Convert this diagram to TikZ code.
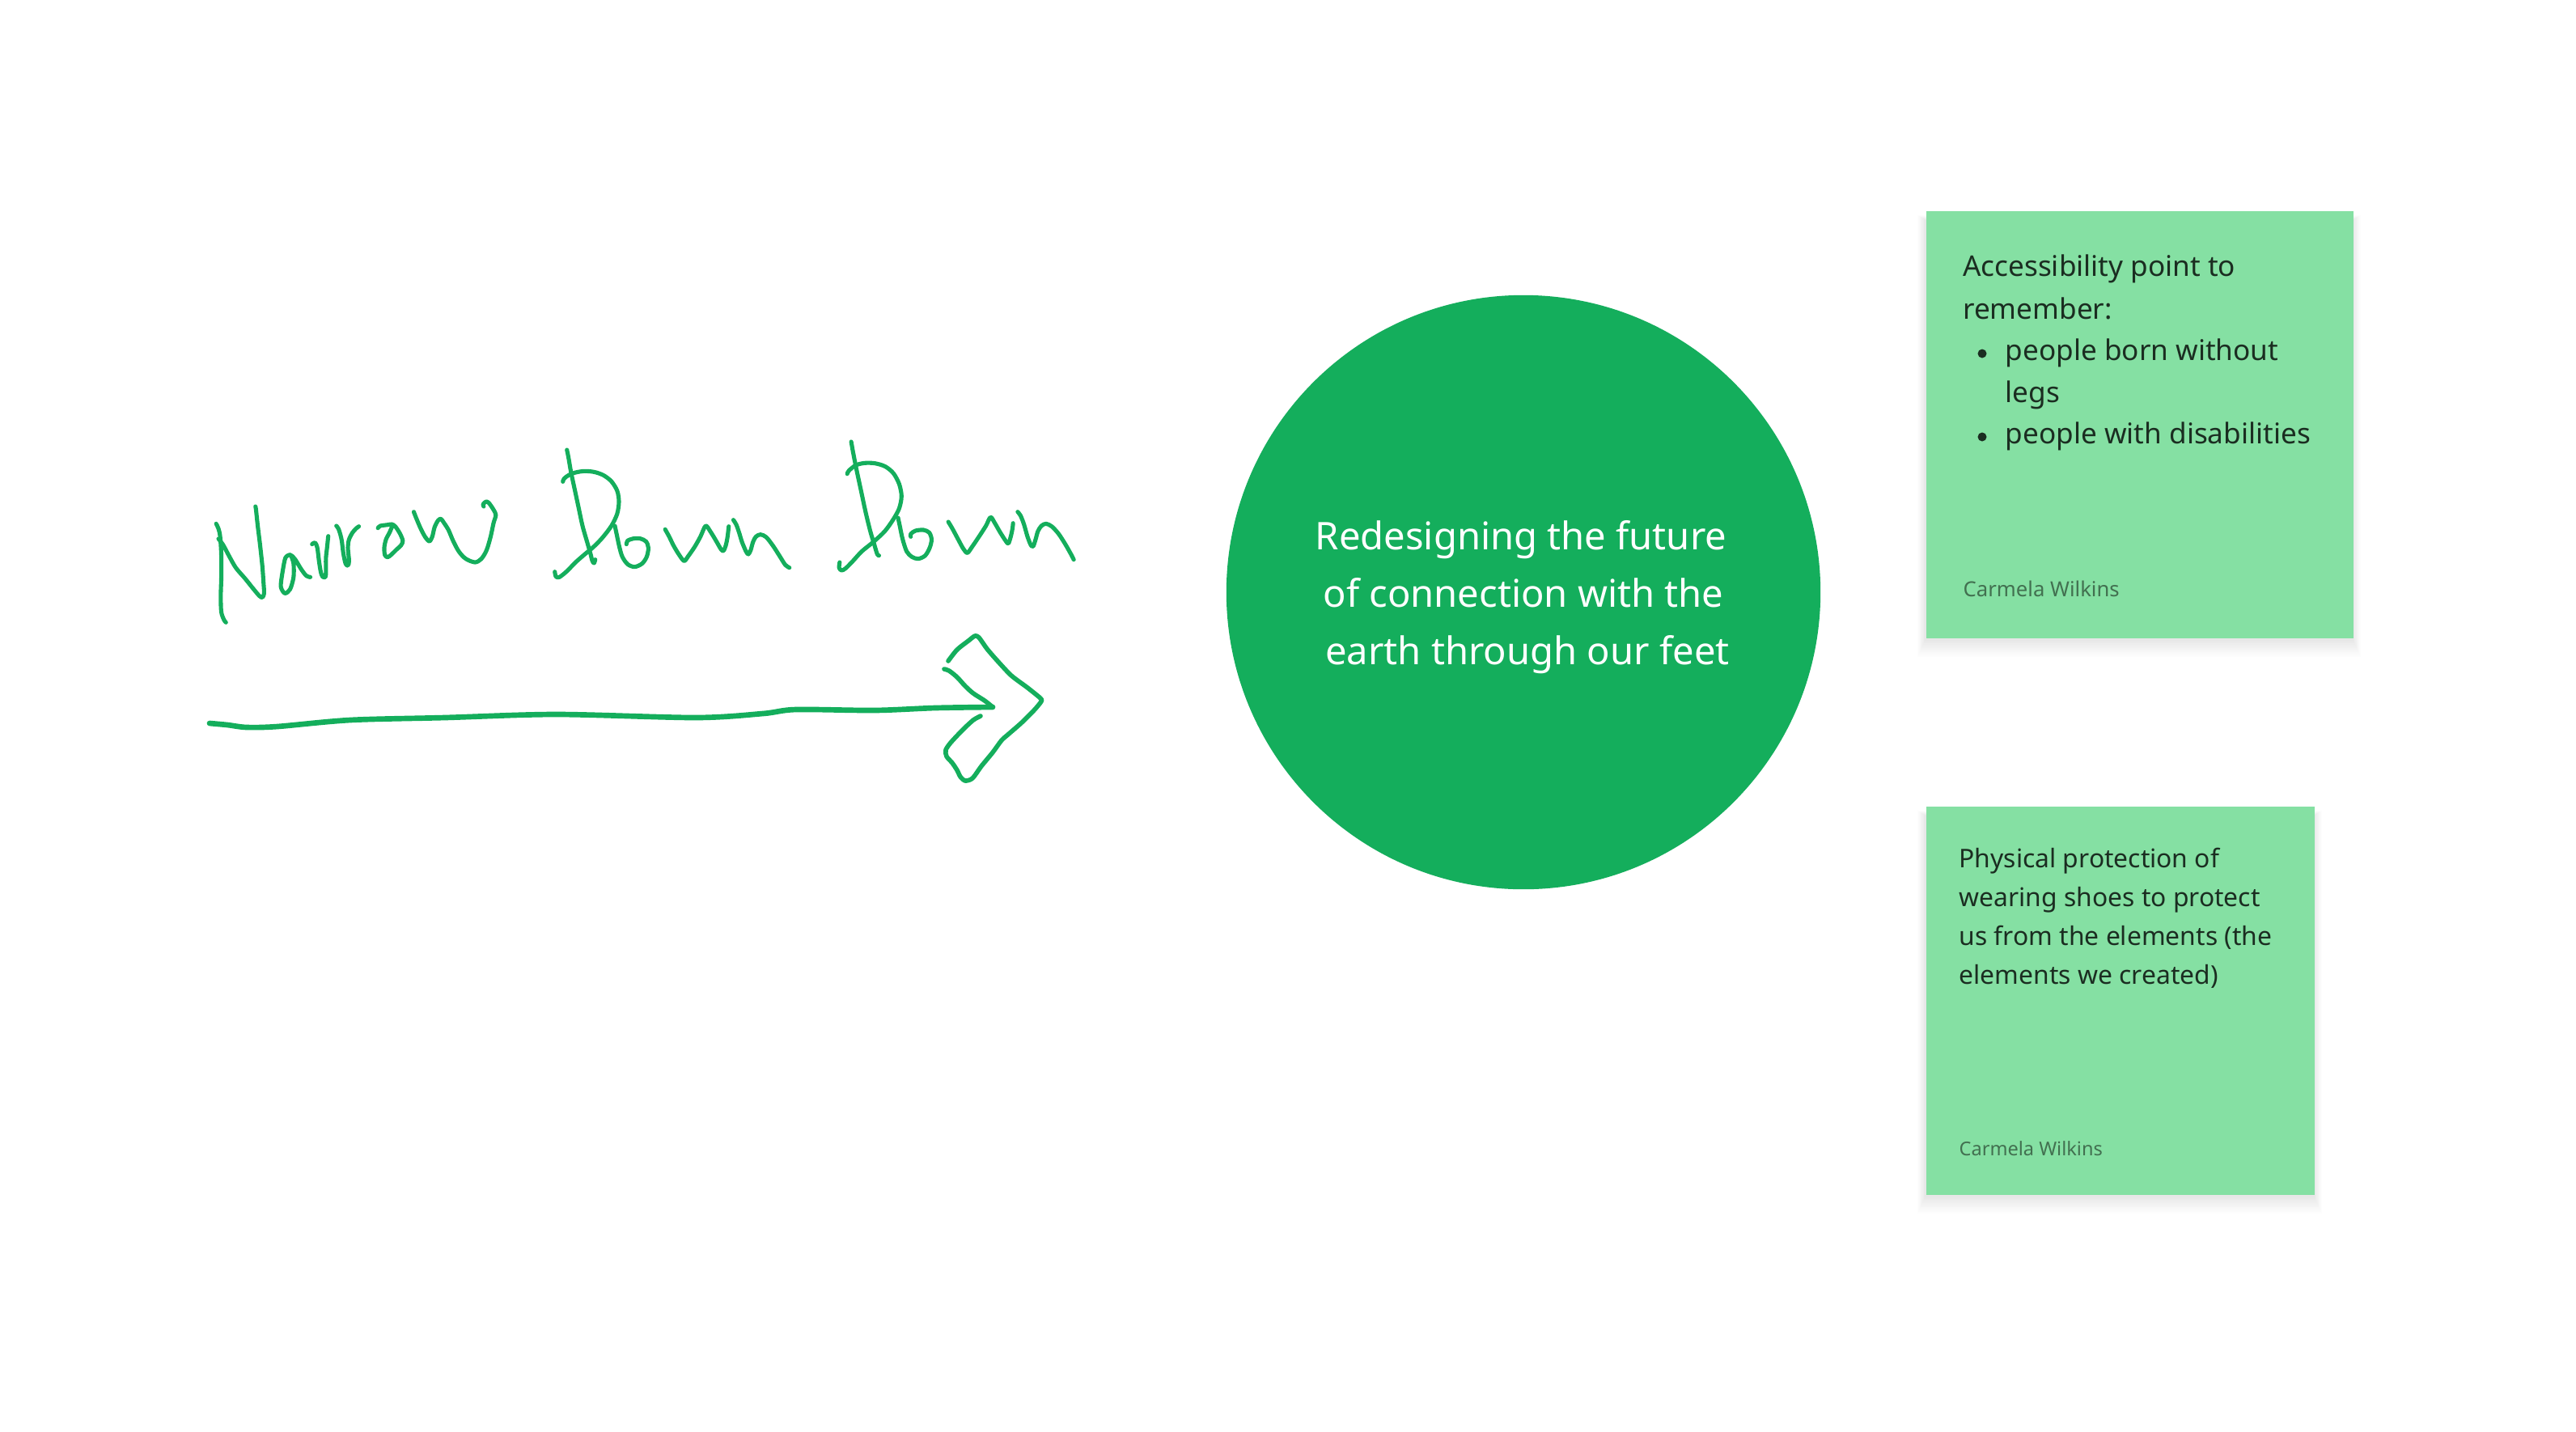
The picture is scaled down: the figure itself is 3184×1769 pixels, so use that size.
\documentclass[tikz,border=0pt]{standalone}
\usepackage{fontspec}
\setmainfont{Noto Sans}
\definecolor{figgreen}{HTML}{14AE5C}
\definecolor{stickygreen}{HTML}{85E0A3}
\definecolor{stickyink}{RGB}{27,45,33}
\definecolor{authorink}{RGB}{66,112,80}
\begin{document}
\begin{tikzpicture}[x=0.01cm,y=-0.01cm,
  ink/.style={draw=figgreen, line width=1.45pt, line cap=round, line join=round},
  arrowink/.style={draw=figgreen, line width=1.6pt, line cap=round, line join=round},
  shaftink/.style={draw=figgreen, line width=1.9pt, line cap=round, line join=round},
  notebox/.style={fill=stickygreen, draw=none, inner sep=0, anchor=north west},
  notetext/.style={inner sep=0, anchor=base west, text=stickyink},
  bulletdot/.style={circle, fill=stickyink, draw=none, inner sep=0, minimum size=0.11cm},
  n1font/.style={font=\fontsize{10pt}{14pt}\selectfont},
  n2font/.style={font=\fontsize{9.05pt}{13pt}\selectfont},
  authortext/.style={inner sep=0, anchor=base west, text=authorink, font=\fontsize{7.3pt}{9pt}\selectfont},
  hubtext/.style={inner sep=0, anchor=base, text=white, font=\fontsize{13.4pt}{20pt}\selectfont},
  shadowlayer/.style={fill=black, opacity=0.009}
]
\fill[white] (0,0) rectangle (3184,1769);
\useasboundingbox (0,0) rectangle (3184,1769);

% ---------- handwriting "Narrow Down Down" ----------
\begin{scope}[shift={(240,520)}, xscale=0.7143, yscale=0.33333]
% N
\draw[ink] plot[smooth, tension=0.5] coordinates {(38,382) (42,400) (45,430) (47,500) (47,580) (46,650) (47,710) (52,740) (55,748)};
\draw[ink] plot[smooth, tension=0.5] coordinates {(42,438) (50,460) (60,500) (72,545) (88,585) (103,625) (113,650) (118,655) (121,640) (120,600) (118,540) (114,460) (110,390) (107,330) (106,318)};
% a
\draw[ink] plot[smooth, tension=0.5] coordinates {(166,497) (158,508) (153,560) (150,615) (157,640) (166,625) (172,580) (172,530) (168,500) (175,515) (185,550) (194,575) (201,580)};
% r
\draw[ink] plot[smooth, tension=0.5] coordinates {(204,458) (209,452) (213,470) (216,520) (219,560) (222,578) (227,580) (228,560) (228,510) (230,470) (232,428)};
% r
\draw[ink] plot[smooth, tension=0.5] coordinates {(246,390) (250,402) (255,440) (258,490) (262,530) (266,537) (268,520) (266,470) (268,440) (274,415) (280,400) (285,392)};
% o
\draw[ink] plot[smooth, tension=0.5] coordinates {(318,398) (322,390) (335,386) (342,384) (348,392) (356,418) (361,445) (358,462) (350,478) (342,495) (335,506) (330,498) (329,470) (332,440) (338,415) (342,395)};
% w
\draw[ink] plot[smooth, tension=0.5] coordinates {(380,338) (384,360) (392,400) (400,432) (407,447) (412,430) (416,395) (422,370) (427,364) (432,378) (440,405) (448,445) (458,485) (470,512) (486,525) (497,512) (506,480) (513,430) (518,380) (522,350) (518,330) (510,305) (505,300) (500,310) (501,318)};
% D
\draw[ink] plot[smooth, tension=0.5] coordinates {(645,108) (648,140) (652,190) (658,250) (665,320) (672,390) (680,450) (686,495) (689,520) (692,528) (694,515)};
\draw[ink] plot[smooth, tension=0.5] coordinates {(638,226) (640,215) (648,202) (660,192) (675,187) (692,190) (708,202) (722,225) (732,260) (735,300) (732,345) (722,390) (706,435) (690,470) (676,495) (660,525) (645,558) (632,580) (626,578) (624,560)};
% o
\draw[ink] plot[smooth, tension=0.5] coordinates {(728,390) (731,420) (736,470) (741,505) (750,532) (762,542) (775,530) (783,505) (786,472) (782,448) (772,437) (760,437) (750,445) (748,458)};
% w
\draw[ink] plot[smooth, tension=0.5] coordinates {(815,403) (822,430) (830,465) (840,500) (848,520) (855,502) (866,468) (876,430) (885,390) (893,410) (903,445) (912,478) (916,482) (920,462) (923,430) (925,392)};
% n
\draw[ink] plot[smooth, tension=0.5] coordinates {(933,368) (938,385) (943,415) (948,450) (955,485) (959,495) (963,480) (967,450) (972,430) (980,422) (990,432) (1002,465) (1014,505) (1023,535) (1030,545)};
% D
\draw[ink] plot[smooth, tension=0.5] coordinates {(1137,78) (1140,115) (1146,180) (1154,260) (1162,340) (1170,410) (1177,460) (1182,495) (1185,500)};
\draw[ink] plot[smooth, tension=0.5] coordinates {(1130,197) (1133,185) (1145,165) (1160,157) (1178,158) (1196,170) (1210,195) (1220,235) (1224,280) (1220,325) (1210,365) (1195,410) (1175,450) (1155,485) (1140,520) (1127,548) (1120,555) (1116,545) (1117,525)};
% o
\draw[ink] plot[smooth, tension=0.5] coordinates {(1218,360) (1221,390) (1226,440) (1233,485) (1242,505) (1253,512) (1265,500) (1273,470) (1276,440) (1272,415) (1262,405) (1248,408) (1240,420) (1240,430)};
% w
\draw[ink] plot[smooth, tension=0.5] coordinates {(1305,375) (1312,400) (1322,440) (1331,475) (1338,490) (1346,468) (1358,430) (1370,390) (1378,358) (1385,378) (1395,415) (1405,448) (1409,455) (1413,430) (1416,400) (1417,380)};
% n
\draw[ink] plot[smooth, tension=0.5] coordinates {(1425,338) (1430,352) (1436,385) (1442,430) (1448,462) (1452,465) (1456,440) (1460,410) (1466,390) (1474,382) (1484,392) (1496,420) (1508,460) (1518,498) (1522,515)};
\end{scope}

% ---------- hand-drawn arrow ----------
\coordinate (shaftstart) at (259,894);
\coordinate (shaftend) at (1227,874);
\draw[shaftink] (shaftstart) plot[smooth, tension=0.5] coordinates {(259,894) (281,896) (305,899) (343,898) (433,890) (550,887) (688,883) (860,887) (943,882) (984,877) (1081,878) (1156,875) (1227,874)};
\draw[arrowink] plot[smooth, tension=0.5] coordinates {(1167,827) (1173,829) (1183,837) (1193,848) (1203,857) (1217,866) (1227,874)};
\draw[arrowink] plot[smooth, tension=0.45] coordinates {(1172,817) (1183,803) (1197,792) (1205,786) (1210,788) (1220,802) (1233,817) (1250,835) (1270,850) (1286,863) (1287,867) (1278,878) (1263,893) (1247,907) (1238,915) (1227,930) (1213,947) (1202,962) (1193,965) (1187,960) (1183,952) (1177,943) (1170,935) (1169,927) (1175,918) (1190,902) (1203,890) (1212,885)};

% ---------- central circle ----------
\node[circle, fill=figgreen, draw=none, minimum size=7.34cm, inner sep=0] (hub) at (1883,732) {};
\node[hubtext] (hubl1) at (1880,679.5) {Redesigning the future};
\node[hubtext] (hubl2) at (1883,750.7) {of connection with the};
\node[hubtext] (hubl3) at (1888,821.7) {earth through our feet};

% ---------- sticky note 1 ----------
\foreach \i in {1,...,12}
  \fill[shadowlayer] (2380-\i*0.8, 272-\i*0.5) rectangle (2908+\i*0.8, 790+\i*1.8);
\node[notebox, minimum width=5.28cm, minimum height=5.275cm] (note1) at (2380,260.5) {};
\node[notetext, n1font] (n1a) at (2425.5,341.7) {Accessibility point to};
\node[notetext, n1font] (n1b) at (2425.5,394) {remember:};
\node[bulletdot] (n1bul1) at (2450,437) {};
\node[notetext, n1font] (n1c) at (2478,445.5) {people born without};
\node[notetext, n1font] (n1d) at (2478,497) {legs};
\node[bulletdot] (n1bul2) at (2450,540) {};
\node[notetext, n1font] (n1e) at (2478,548.5) {people with disabilities};
\node[authortext] (n1auth) at (2426,737) {Carmela Wilkins};

% ---------- sticky note 2 ----------
\foreach \i in {1,...,12}
  \fill[shadowlayer] (2380-\i*0.8, 1008-\i*0.5) rectangle (2860+\i*0.8, 1478+\i*1.8);
\node[notebox, minimum width=4.8cm, minimum height=4.79cm] (note2) at (2380,996.7) {};
\node[notetext, n2font] (n2a) at (2421,1072.5) {Physical protection of};
\node[notetext, n2font] (n2b) at (2421,1120.5) {wearing shoes to protect};
\node[notetext, n2font] (n2c) at (2421,1168.5) {us from the elements (the};
\node[notetext, n2font] (n2d) at (2421,1216.5) {elements we created)};
\node[authortext, font=\fontsize{6.7pt}{9pt}\selectfont] (n2auth) at (2421,1428) {Carmela Wilkins};
\end{tikzpicture}
\end{document}
